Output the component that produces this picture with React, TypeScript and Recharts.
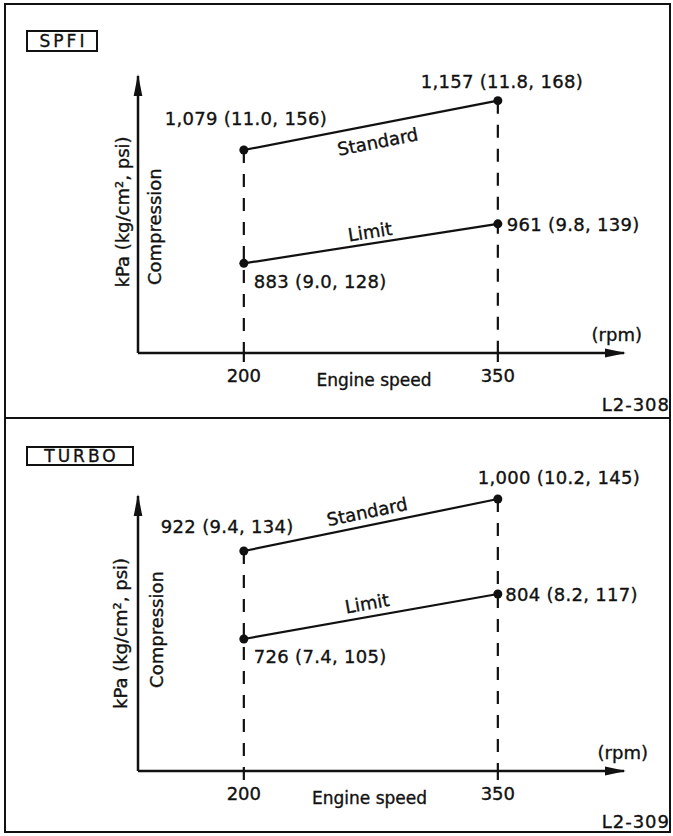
import React from 'react';
import { LineChart, Line, XAxis, YAxis, ReferenceLine, ReferenceDot } from 'recharts';

// ---------------- data ----------------
const engineSpeedRpm = [200, 350];
const xTicks = [200, 350];

const spfiStandardKpa = [1079, 1157];
const spfiStandardKgcm2 = [11.0, 11.8];
const spfiStandardPsi = [156, 168];
const spfiLimitKpa = [883, 961];
const spfiLimitKgcm2 = [9.0, 9.8];
const spfiLimitPsi = [128, 139];

const turboStandardKpa = [922, 1000];
const turboStandardKgcm2 = [9.4, 10.2];
const turboStandardPsi = [134, 145];
const turboLimitKpa = [726, 804];
const turboLimitKgcm2 = [7.4, 8.2];
const turboLimitPsi = [105, 117];

const seriesNames = ['Standard', 'Limit'];
const panelTitles = ['SPFI', 'TURBO'];
const figureCodes = ['L2-308', 'L2-309'];
const xAxisTitle = 'Engine speed';
const xAxisUnit = '(rpm)';
const yAxisTitle = 'Compression';
const yAxisUnit = 'kPa (kg/cm², psi)';

// ---------------- styles / layout ----------------
const FONT = '"DejaVu Sans", Verdana, sans-serif';
const INK = '#111';
const TXT_STROKE = 0.35;
const xDomain: [number, number] = [137.5, 424.5];

type Series = { kpa: number[]; kg: number[]; psi: number[] };
type LabelPos = { anchor: 'start' | 'middle' | 'end'; dx: number; dy: number };
type NamePos = { dx: number; dy: number; angle: number };

interface Layout {
  marginTop: number;
  stdDomain: [number, number];
  limDomain: [number, number];
  stdLabels: LabelPos[];
  limLabels: LabelPos[];
  stdName: NamePos;
  limName: NamePos;
  unit: { dx: number; dy: number };
  comp: { dx: number; dy: number };
  xTitle: { dx: number; dy: number };
  xUnit: { dx: number; dy: number };
  titleTop: number;
  titleW: number;
  titleH: number;
  codeTop: number;
}

const spfiLayout: Layout = {
  marginTop: 76,
  stdDomain: [758, 1196],
  limDomain: [706, 1253],
  stdLabels: [
    { anchor: 'middle', dx: 2, dy: -24.5 },
    { anchor: 'middle', dx: 4, dy: -12.5 },
  ],
  limLabels: [
    { anchor: 'start', dx: 10, dy: 25 },
    { anchor: 'start', dx: 9, dy: 6.7 },
  ],
  stdName: { dx: 6.8, dy: 16.3, angle: 11 },
  limName: { dx: -0.9, dy: -12, angle: 8.8 },
  unit: { dx: -9, dy: -141 },
  comp: { dx: 23, dy: -126.3 },
  xTitle: { dx: 236, dy: 32.5 },
  xUnit: { dx: 504, dy: -12 },
  titleTop: 30,
  titleW: 72,
  titleH: 22,
  codeTop: 396,
};

const turboLayout: Layout = {
  marginTop: 78,
  stdDomain: [592, 1004.5],
  limDomain: [497, 974],
  stdLabels: [
    { anchor: 'middle', dx: -16.6, dy: -17.7 },
    { anchor: 'middle', dx: 61, dy: -14.7 },
  ],
  limLabels: [
    { anchor: 'start', dx: 10, dy: 24.3 },
    { anchor: 'start', dx: 7.3, dy: 7 },
  ],
  stdName: { dx: -3.8, dy: -13.3, angle: 11.6 },
  limName: { dx: -3.8, dy: -13.2, angle: 10.1 },
  unit: { dx: -11.3, dy: -137.5 },
  comp: { dx: 25, dy: -141.5 },
  xTitle: { dx: 231.5, dy: 33 },
  xUnit: { dx: 510, dy: -12.3 },
  titleTop: 28,
  titleW: 108,
  titleH: 20,
  codeTop: 394.5,
};

const fmtLabel = (s: Series, i: number) =>
  `${s.kpa[i].toLocaleString('en-US')} (${s.kg[i].toFixed(1)}, ${s.psi[i]})`;

const makeDot = (series: Series, pos: LabelPos[]) => (props: any) => {
  const { cx, cy, index } = props;
  const p = pos[index];
  return (
    <g key={`dot-${index}`}>
      <circle cx={cx} cy={cy} r={4.5} fill={INK} />
      <text
        x={cx + p.dx}
        y={cy + p.dy}
        textAnchor={p.anchor}
        fontSize={18}
        fill={INK}
        stroke={INK}
        strokeWidth={TXT_STROKE}
        letterSpacing={0.3}
      >
        {fmtLabel(series, index)}
      </text>
    </g>
  );
};

const nameShape = (text: string, n: NamePos) => (props: any) => {
  const x = props.cx + n.dx;
  const y = props.cy + n.dy;
  return (
    <text
      x={x}
      y={y}
      textAnchor="middle"
      dominantBaseline="central"
      fontSize={18}
      fill={INK}
      stroke={INK}
      strokeWidth={TXT_STROKE}
      transform={`rotate(${-n.angle} ${x} ${y})`}
    >
      {text}
    </text>
  );
};

const axisTextShape = (L: Layout) => (props: any) => {
  const { cx, cy } = props;
  const ux = cx + L.unit.dx;
  const uy = cy + L.unit.dy;
  const cxx = cx + L.comp.dx;
  const cyy = cy + L.comp.dy;
  return (
    <g fill={INK} stroke={INK} strokeWidth={TXT_STROKE} fontSize={18}>
      <text x={ux} y={uy} textAnchor="middle" transform={`rotate(-90 ${ux} ${uy})`}>
        {yAxisUnit}
      </text>
      <text x={cxx} y={cyy} textAnchor="middle" transform={`rotate(-90 ${cxx} ${cyy})`}>
        {yAxisTitle}
      </text>
      <text x={cx + L.xTitle.dx} y={cy + L.xTitle.dy} textAnchor="middle" fontSize={17}>
        {xAxisTitle}
      </text>
      <text x={cx + L.xUnit.dx} y={cy + L.xUnit.dy} textAnchor="end">
        {xAxisUnit}
      </text>
    </g>
  );
};

function Panel({
  top,
  title,
  code,
  std,
  lim,
  L,
}: {
  top: number;
  title: string;
  code: string;
  std: Series;
  lim: Series;
  L: Layout;
}) {
  const rows = engineSpeedRpm.map((rpm, i) => ({ rpm, standard: std.kpa[i], limit: lim.kpa[i] }));
  const midRpm = (engineSpeedRpm[0] + engineSpeedRpm[1]) / 2;
  const mean = (a: number[]) => (a[0] + a[1]) / 2;

  return (
    <div style={{ position: 'absolute', left: 0, top, width: 673, height: 418 }}>
      <LineChart
        width={673}
        height={418}
        data={rows}
        margin={{ top: L.marginTop, right: 49, bottom: 0, left: 138 }}
      >
        <XAxis
          dataKey="rpm"
          type="number"
          domain={xDomain}
          ticks={xTicks}
          height={65}
          axisLine={{ stroke: INK, strokeWidth: 2.5 }}
          tickLine={{ stroke: INK, strokeWidth: 2.2 }}
          tickSize={9}
          tickMargin={7}
          tick={{ fill: INK, fontSize: 18, stroke: INK, strokeWidth: TXT_STROKE }}
        />
        <YAxis yAxisId="std" type="number" domain={L.stdDomain} hide />
        <YAxis yAxisId="lim" type="number" domain={L.limDomain} hide />

        {/* vertical axis line */}
        <ReferenceLine
          yAxisId="std"
          segment={[
            { x: xDomain[0], y: L.stdDomain[0] },
            { x: xDomain[0], y: L.stdDomain[1] },
          ]}
          stroke={INK}
          strokeWidth={2.5}
          ifOverflow="visible"
        />

        {engineSpeedRpm.map((rpm, i) => (
          <ReferenceLine
            key={`v-${rpm}`}
            yAxisId="std"
            segment={[
              { x: rpm, y: std.kpa[i] },
              { x: rpm, y: L.stdDomain[0] },
            ]}
            stroke={INK}
            strokeWidth={2.2}
            strokeDasharray="13 11"
            ifOverflow="visible"
          />
        ))}

        <ReferenceDot
          yAxisId="std"
          x={xDomain[1]}
          y={L.stdDomain[0]}
          ifOverflow="visible"
          shape={(p: any) => (
            <path
              d={`M${p.cx + 2},${p.cy} L${p.cx - 19},${p.cy - 4.5} L${p.cx - 19},${p.cy + 4.5} Z`}
              fill={INK}
            />
          )}
        />
        <ReferenceDot
          yAxisId="std"
          x={xDomain[0]}
          y={L.stdDomain[1]}
          ifOverflow="visible"
          shape={(p: any) => (
            <path
              d={`M${p.cx},${p.cy - 2} L${p.cx - 4.3},${p.cy + 20} L${p.cx + 4.3},${p.cy + 20} Z`}
              fill={INK}
            />
          )}
        />
        <ReferenceDot
          yAxisId="std"
          x={xDomain[0]}
          y={L.stdDomain[0]}
          ifOverflow="visible"
          shape={axisTextShape(L)}
        />
        <ReferenceDot
          yAxisId="std"
          x={midRpm}
          y={mean(std.kpa)}
          ifOverflow="visible"
          shape={nameShape(seriesNames[0], L.stdName)}
        />
        <ReferenceDot
          yAxisId="lim"
          x={midRpm}
          y={mean(lim.kpa)}
          ifOverflow="visible"
          shape={nameShape(seriesNames[1], L.limName)}
        />

        <Line
          yAxisId="std"
          dataKey="standard"
          type="linear"
          stroke={INK}
          strokeWidth={2.2}
          isAnimationActive={false}
          dot={makeDot(std, L.stdLabels)}
          activeDot={false}
        />
        <Line
          yAxisId="lim"
          dataKey="limit"
          type="linear"
          stroke={INK}
          strokeWidth={2.2}
          isAnimationActive={false}
          dot={makeDot(lim, L.limLabels)}
          activeDot={false}
        />
      </LineChart>

      <div
        style={{
          position: 'absolute',
          left: 26,
          top: L.titleTop,
          width: L.titleW,
          height: L.titleH,
          border: `2px solid ${INK}`,
          boxSizing: 'border-box',
          fontSize: 17,
          letterSpacing: 3,
          lineHeight: `${L.titleH - 4}px`,
          textAlign: 'center',
          paddingLeft: 3,
          color: INK,
          WebkitTextStroke: `${TXT_STROKE}px ${INK}`,
        }}
      >
        {title}
      </div>
      <div
        style={{
          position: 'absolute',
          right: 3,
          top: L.codeTop,
          fontSize: 18,
          letterSpacing: 1,
          lineHeight: '18px',
          color: INK,
          WebkitTextStroke: `${TXT_STROKE}px ${INK}`,
        }}
      >
        {code}
      </div>
    </div>
  );
}

export default function App() {
  const spfiStd: Series = { kpa: spfiStandardKpa, kg: spfiStandardKgcm2, psi: spfiStandardPsi };
  const spfiLim: Series = { kpa: spfiLimitKpa, kg: spfiLimitKgcm2, psi: spfiLimitPsi };
  const turboStd: Series = { kpa: turboStandardKpa, kg: turboStandardKgcm2, psi: turboStandardPsi };
  const turboLim: Series = { kpa: turboLimitKpa, kg: turboLimitKgcm2, psi: turboLimitPsi };

  return (
    <div
      style={{
        position: 'absolute',
        left: 0,
        top: 0,
        width: 673,
        height: 836,
        background: '#fff',
        fontFamily: FONT,
        overflow: 'hidden',
      }}
    >
      <div
        style={{
          position: 'absolute',
          left: 4,
          top: 3,
          width: 667,
          height: 830,
          border: `2px solid ${INK}`,
          boxSizing: 'border-box',
        }}
      />
      <div style={{ position: 'absolute', left: 4, top: 417, width: 667, height: 2, background: INK }} />
      <Panel top={0} title={panelTitles[0]} code={figureCodes[0]} std={spfiStd} lim={spfiLim} L={spfiLayout} />
      <Panel top={418} title={panelTitles[1]} code={figureCodes[1]} std={turboStd} lim={turboLim} L={turboLayout} />
    </div>
  );
}
